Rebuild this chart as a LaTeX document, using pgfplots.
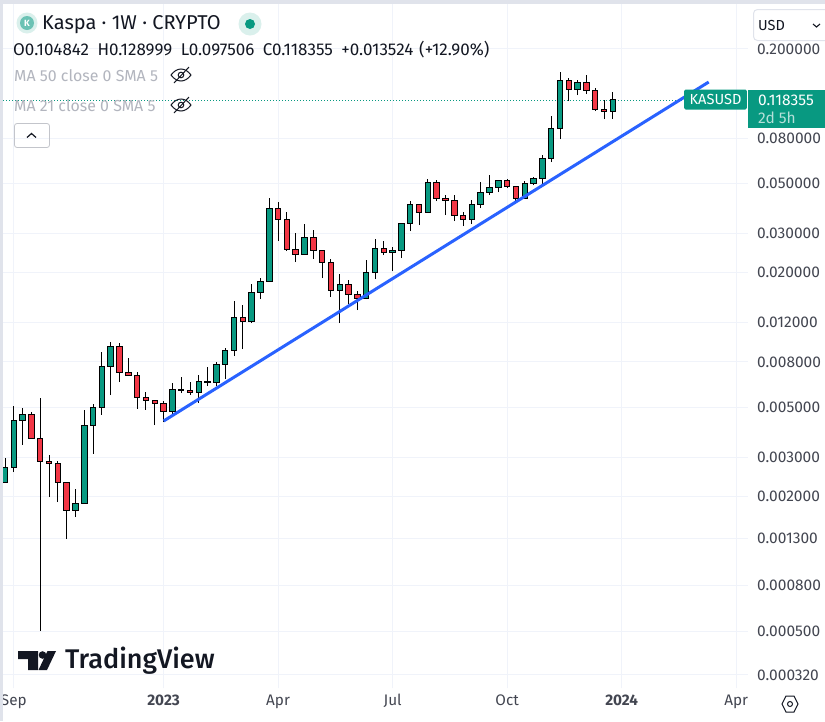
\documentclass[border=0pt]{standalone}
\usepackage{pgfplots}
\usepackage{pgfplotstable}
\usepackage{fontspec}
\pgfplotsset{compat=1.18}
\setmainfont{Fira Sans}
\newfontfamily\logofont{Fira Sans Medium}
\definecolor{up}{HTML}{089981}
\definecolor{down}{HTML}{F23645}
\definecolor{gridc}{HTML}{F0F3FA}
\definecolor{strip}{HTML}{E0E3EB}
\definecolor{txt}{HTML}{131722}
\definecolor{scale}{HTML}{434651}
\definecolor{mut}{HTML}{B2B5BE}
\definecolor{trend}{HTML}{2962FF}
\pgfplotstableread{
i open high low close dir
0 .002303 .002978 .002303 .002714 up
1 .002714 .005083 .002578 .004357 up
2 .004357 .004980 .003404 .004634 up
3 .004634 .004780 .003621 .003621 down
4 .003621 .005518 .000503 .002858 down
5 .002887 .003071 .001994 .002828 down
6 .002828 .002887 .001894 .002303 down
7 .002303 .002303 .001294 .001744 down
8 .001744 .002165 .001623 .001874 up
9 .001874 .004879 .001874 .004139 up
10 .004139 .005189 .003103 .004980 up
11 .004980 .008856 .004634 .007668 up
12 .007668 .009815 .005691 .009419 up
13 .009419 .009715 .006505 .007209 down
14 .007209 .008326 .00699 .00699 down
15 .00699 .007209 .004929 .005575 down
16 .005575 .005869 .004879 .005352 down
17 .005352 .005407 .004181 .005189 down
18 .005189 .005352 .004312 .00478 down
19 .00478 .006438 .004587 .006053 up
20 .005991 .006848 .005809 .006053 up
21 .005991 .006505 .005691 .005869 down
22 .005869 .00699 .005243 .006572 up
23 .006505 .00759 .006243 .006572 up
24 .006505 .00799 .006243 .007827 up
25 .007827 .009228 .006708 .00904 up
26 .00904 .014963 .008499 .012693 up
27 .012693 .01436 .009133 .012181 down
28 .012181 .017822 .011933 .016414 up
29 .016414 .018955 .015274 .01838 up
30 .01838 .04316 .01838 .03894 up
31 .03894 .04142 .02773 .03478 down
32 .03478 .03737 .02502 .02554 down
33 .02554 .03012 .02235 .02426 down
34 .02426 .03303 .02426 .0289 up
35 .0289 .03106 .02305 .02528 down
36 .02528 .02528 .01895 .02235 down
37 .02235 .02305 .01559 .01676 down
38 .01676 .01975 .01193 .01782 up
39 .01782 .01857 .01451 .01608 down
40 .01608 .01658 .01364 .01543 down
41 .01543 .02281 .01527 .02016 up
42 .02016 .02831 .01876 .02581 up
43 .02581 .02773 .02401 .02477 down
44 .02477 .02607 .02037 .02528 up
45 .02528 .03337 .02328 .03337 up
46 .03337 .04185 .03074 .04058 up
47 .04058 .04058 .0327 .03737 down
48 .03737 .05248 .03737 .05088 up
49 .05088 .05194 .04185 .04316 down
50 .04316 .04451 .03624 .04228 down
51 .04228 .04451 .03407 .03624 down
52 .03624 .03737 .03236 .03478 down
53 .03478 .04228 .03303 .04058 up
54 .04058 .05088 .03894 .04591 up
55 .04591 .05469 .04451 .04833 up
56 .04833 .05194 .04591 .05194 up
57 .05194 .05248 .04784 .04883 down
58 .04883 .04883 .04185 .04316 down
59 .04316 .05141 .04316 .05036 up
60 .05036 .05357 .04934 .05302 up
61 .05302 .06717 .04934 .06513 up
62 .06513 .10032 .0625 .08867 up
63 .08867 .15771 .07918 .14526 up
64 .14526 .14828 .11704 .13242 down
65 .13242 .14526 .12449 .1423 up
66 .1423 .15292 .12578 .13106 down
67 .13106 .13379 .10561 .1078 down
68 .1078 .11825 .09727 .104842 down
69 .104842 .128999 .097506 .118355 up
}\kasdata
\newcommand\fs[1]{\fontsize{#1}{#1}\selectfont}
\newcommand\eye[2]{%
  \begin{scope}[shift={(#1,#2)},draw=txt,line width=1pt]
    \draw (-10,0) .. controls (-4,-8) and (4,-8) .. (10,0) .. controls (4,8) and (-4,8) .. (-10,0) -- cycle;
    \draw (0,0) circle (2.8pt);
    \draw (-7,8) -- (8,-8);
  \end{scope}}
\begin{document}
\begin{tikzpicture}[x=1pt,y=-1pt]
\path[use as bounding box,fill=white] (0,0) rectangle (825,721);
\begin{axis}[
  at={(3pt,-688pt)}, anchor=south west,
  width=745pt, height=684pt, scale only axis,
  ymode=log,
  xmin=-0.2276, xmax=84.34,
  ymin=0.0002796, ymax=0.31738,
  no markers, clip=true,
  axis line style={draw=none},
  major tick length=0pt,
  grid=major,
  major grid style={gridc,line width=1pt},
  xtick={1,18,31,44,57,70,83},
  xticklabels={Sep,\textbf{2023},Apr,Jul,Oct,\textbf{2024},Apr},
  xticklabel style={font=\fs{15.3},text=scale,anchor=base,yshift=-17pt},
  ytick={0.2,0.08,0.05,0.03,0.02,0.012,0.008,0.005,0.003,0.002,0.0013,0.0008,0.0005,0.00032},
  yticklabels={0.200000,0.080000,0.050000,0.030000,0.020000,0.012000,0.008000,0.005000,0.003000,0.002000,0.001300,0.000800,0.000500,0.000320},
  yticklabel pos=right,
  yticklabel style={font=\fs{15.5},text=scale,anchor=west,inner sep=0pt,xshift=9pt},
]
% last price dotted line
\addplot[up,line width=0.7pt,dash pattern=on 1pt off 2pt] coordinates {(-0.2276,0.118355)(77.2,0.118355)};
% candles
\pgfplotsforeachungrouped \i in {0,...,69}{%
  \pgfplotstablegetelem{\i}{open}\of\kasdata \let\vO\pgfplotsretval
  \pgfplotstablegetelem{\i}{high}\of\kasdata \let\vH\pgfplotsretval
  \pgfplotstablegetelem{\i}{low}\of\kasdata \let\vL\pgfplotsretval
  \pgfplotstablegetelem{\i}{close}\of\kasdata \let\vC\pgfplotsretval
  \pgfplotstablegetelem{\i}{dir}\of\kasdata \let\vD\pgfplotsretval
  \pgfmathsetmacro\xa{\i-0.31}\pgfmathsetmacro\xb{\i+0.31}%
  \edef\temp{%
    \noexpand\addplot[black,line width=1pt] coordinates {(\i,\vL)(\i,\vH)};
    \noexpand\addplot[draw=black,fill=\vD,line width=1pt] coordinates {(\xa,\vO)(\xb,\vO)(\xb,\vC)(\xa,\vC)} --cycle;
  }\temp
}
% trend line
\addplot[trend,line width=3pt] coordinates {(18.01,0.004357)(79.88,0.1423)};
\end{axis}
% window strips
\fill[strip] (0,0) rectangle (825,4);
\fill[strip] (0,0) rectangle (3,721);
% header
\fill[up!15] (27,23) circle (10.5pt);
\fill[up!60] (27,23) circle (7pt);
\node[white,font=\fs{9}\bfseries] at (27,23) {K};
\node[anchor=west,inner sep=0pt,text=txt,font=\fs{20}] at (42,24.5) {Kaspa · 1W · CRYPTO};
\fill[up!15] (250,24) circle (11.5pt);
\fill[up] (250,24) circle (5pt);
\node[anchor=west,inner sep=0pt,text=txt,font=\fs{17}] at (13,49.5) {O0.104842\hspace{0.5em}H0.128999\hspace{0.5em}L0.097506\hspace{0.5em}C0.118355\hspace{0.5em}+0.013524\hspace{0.35em}(+12.90\%)};
\node[anchor=west,inner sep=0pt,text=mut,font=\fs{15.9}] at (14,75.5) {MA 50 close 0 SMA 5};
\node[anchor=west,inner sep=0pt,text=mut,font=\fs{15.9}] at (14,105.5) {MA 21 close 0 SMA 5};
\eye{181}{75}
\eye{181}{105}
\draw[strip!70!gray,line width=0.8pt,rounded corners=2.5pt] (14.5,123.5) rectangle (49.5,147.5);
\draw[txt,line width=1.2pt] (27,137.5) -- (31.5,133.5) -- (36,137.5);
% USD box
\fill[white] (749,5) rectangle (825,43);
\draw[strip,line width=1pt,rounded corners=4pt,fill=white] (753.5,9.5) rectangle (830,40.5);
\node[anchor=west,inner sep=0pt,text=txt,font=\fs{14.5}] at (758,25.5) {USD};
\draw[txt,line width=1.1pt] (813,24) -- (816.5,27) -- (820,24);
% price tags
\fill[up,rounded corners=1.5pt] (684,89.5) rectangle (746.8,109.5);
\fill[up] (748,89.5) rectangle (825,127.8);
\node[anchor=center,inner sep=0pt,text=white,font=\fs{14.6}] at (715.5,99.5) {KASUSD};
\node[anchor=west,inner sep=0pt,text=white,font=\fs{15.5}] at (758,100) {0.118355};
\node[anchor=west,inner sep=0pt,text=white!70!up,font=\fs{15.5}] at (758,118) {2d 5h};
% TradingView logo
\fill[txt] (18,651) -- (38,651) -- (38,670) -- (28,670) -- (28,659) -- (18,659) -- cycle;
\fill[txt] (42.5,655) circle (3.8pt);
\fill[txt] (47.5,651) -- (56,651) -- (47,670) -- (38.5,670) -- cycle;
\node[anchor=west,inner sep=0pt,text=txt,font=\fs{27}\logofont] at (65,661) {TradingView};
% settings icon
\begin{scope}[shift={(790,704)},draw=txt,line width=1pt]
  \draw (-8,0) -- (-4,-8) -- (4,-8) -- (8,0) -- (4,8) -- (-4,8) -- cycle;
  \draw (0,0) circle (2.5pt);
\end{scope}
\end{tikzpicture}
\end{document}
